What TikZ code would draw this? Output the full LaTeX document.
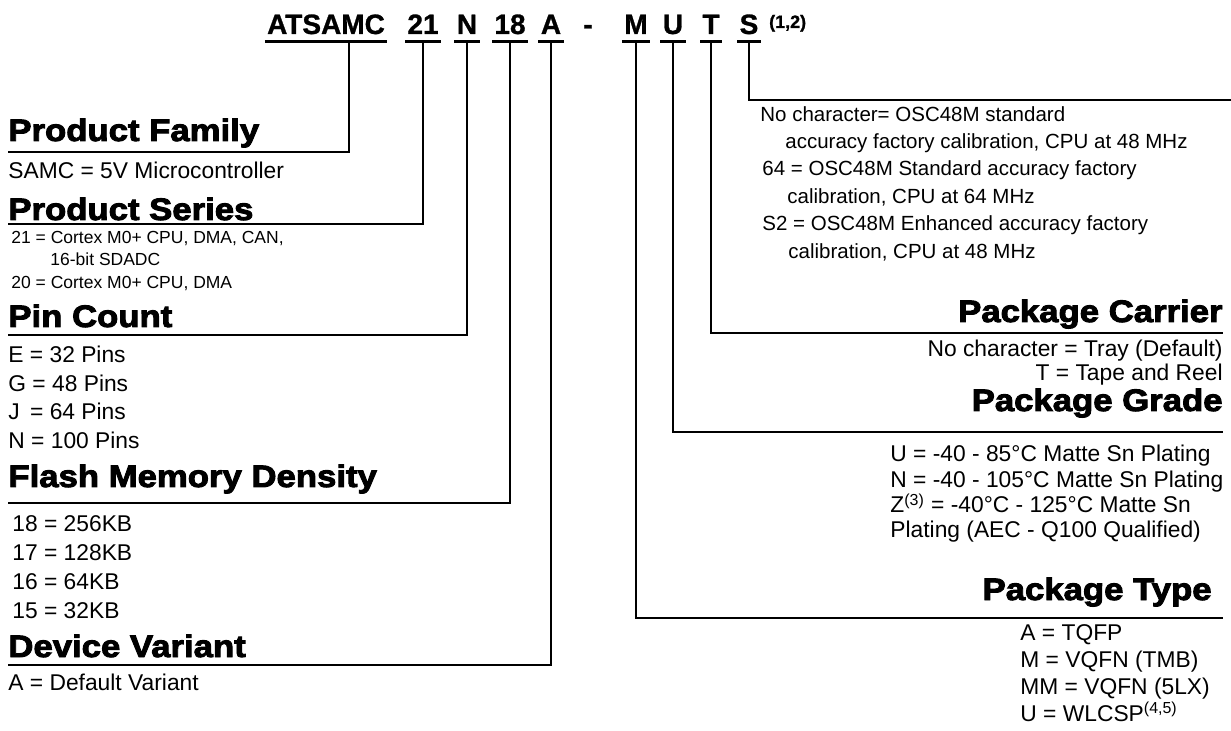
\documentclass[tikz,border=0pt]{standalone}
\usepackage{fontspec}
\setmainfont{Liberation Sans}
\newfontfamily\headfont{Liberation Sans}[FakeStretch=1.12,FakeBold=3]
\newfontfamily\codefont{Liberation Sans}[FakeBold=1]

\begin{document}
\begin{tikzpicture}[x=0.5pt,y=-0.5pt,inner sep=0pt,%
    code/.style={anchor=base,inner xsep=1pt,text depth=3.5pt,%
      font=\codefont\bfseries\fontsize{14}{16}\selectfont},%
    uline/.style={line width=1.5pt},%
    link/.style={line width=1pt},%
    head/.style={font=\headfont\bfseries\fontsize{15.5}{17}\selectfont},%
    desc/.style={anchor=base west,font=\fontsize{11.4}{13}\selectfont},%
    rdesc/.style={anchor=base east,font=\fontsize{11.4}{13}\selectfont},%
    small/.style={anchor=base west,font=\fontsize{8.75}{10}\selectfont},%
    note/.style={anchor=base west,font=\fontsize{10.25}{12}\selectfont}]

  % ここまでをバウンディングボックス内とする
  \useasboundingbox (0,0) rectangle (1231,731);

  % 型番
  \node[code] (pn-family) at (326,34) {ATSAMC};
  \node[code] (pn-series) at (423,34) {21};
  \node[code] (pn-pins) at (467,34) {N};
  \node[code] (pn-flash) at (510,34) {18};
  \node[code] (pn-variant) at (551,34) {A};
  \node[code] (pn-dash) at (588,34) {-};
  \node[code] (pn-type) at (636,34) {M};
  \node[code] (pn-grade) at (673,34) {U};
  \node[code] (pn-carrier) at (711,34) {T};
  \node[code] (pn-option) at (749,34) {S};
  \node[anchor=base west,font=\codefont\bfseries\fontsize{9}{10}\selectfont] (pn-note)%
    at ([xshift=4pt,yshift=3pt]pn-option.base east) {(1,2)};
  \foreach \n in {family,series,pins,flash,variant,type,grade,carrier,option}
    \draw[uline] (pn-\n.south west) -- (pn-\n.south east);

  % 左側の見出し
  \node[head,anchor=base west] (hd-family) at (8,141) {Product Family};
  \node[head,anchor=base west] (hd-series) at (8,220) {Product Series};
  \node[head,anchor=base west] (hd-pins) at (8,327) {Pin Count};
  \node[head,anchor=base west] (hd-flash) at (8,487) {Flash Memory Density};
  \node[head,anchor=base west] (hd-variant) at (8,657) {Device Variant};
  \coordinate (ln-family) at (8,152);
  \coordinate (ln-series) at (8,224);
  \coordinate (ln-pins) at (8,335);
  \coordinate (ln-flash) at (8,503);
  \coordinate (ln-variant) at (8,665);

  % 右側の見出し
  \node[head,anchor=base east] (hd-carrier) at (1223,322) {Package Carrier};
  \node[head,anchor=base east] (hd-grade) at (1223,411) {Package Grade};
  \node[head,anchor=base east] (hd-type) at (1212,600) {Package Type};
  \coordinate (ln-option) at (1231,100);
  \coordinate (ln-carrier) at (1223,333);
  \coordinate (ln-grade) at (1223,432);
  \coordinate (ln-type) at (1223,618);

  % 引き出し線
  \draw[link] ([xshift=11.5pt]pn-family.south) |- (ln-family);
  \foreach \n in {series,pins,flash,variant,type,grade,carrier,option}
    \draw[link] (pn-\n.south) |- (ln-\n);

  % 説明（左）
  \node[desc] (tx-family) at (8,179) {SAMC = 5V Microcontroller};
  \node[small] (tx-series1) at (11,244) {21 = Cortex M0+ CPU, DMA, CAN,};
  \node[small] (tx-series2) at (50,266) {16-bit SDADC};
  \node[small] (tx-series3) at (11,289) {20 = Cortex M0+ CPU, DMA};
  \foreach \t [count=\i] in {E = 32 Pins,G = 48 Pins,J\kern2pt\ = 64 Pins,N = 100 Pins}
    \node[desc] (tx-pins\i) at (8,{363+28.5*(\i-1)}) {\t};
  \foreach \t [count=\i] in {18 = 256KB,17 = 128KB,16 = 64KB,15 = 32KB}
    \node[desc] (tx-flash\i) at (12,{531+29*(\i-1)}) {\t};
  \node[desc] (tx-variant) at (8,690) {A = Default Variant};

  % 説明（右）
  \node[note] (tx-option1) at (760,122) {No character= OSC48M standard};
  \node[note] (tx-option2) at (785,149) {accuracy factory calibration, CPU at 48 MHz};
  \node[note] (tx-option3) at (762,176) {64 = OSC48M Standard accuracy factory};
  \node[note] (tx-option4) at (787,204) {calibration, CPU at 64 MHz};
  \node[note] (tx-option5) at (762,231) {S2 = OSC48M Enhanced accuracy factory};
  \node[note] (tx-option6) at (788,259) {calibration, CPU at 48 MHz};
  \node[rdesc] (tx-carrier1) at (1223,357) {No character = Tray (Default)};
  \node[rdesc] (tx-carrier2) at (1223,381) {T = Tape and Reel};
  \node[desc] (tx-grade1) at (890,462) {U = -40 - 85°C Matte Sn Plating};
  \node[desc] (tx-grade2) at (890,488) {N = -40 - 105°C Matte Sn Plating};
  \node[desc] (tx-grade3) at (890,513) {Z\textsuperscript{(3)} = -40°C - 125°C Matte Sn};
  \node[desc] (tx-grade4) at (890,538) {Plating (AEC - Q100 Qualified)};
  \node[desc] (tx-type1) at (1020,640) {A = TQFP};
  \node[desc] (tx-type2) at (1020,667) {M = VQFN (TMB)};
  \node[desc] (tx-type3) at (1020,694) {MM = VQFN (5LX)};
  \node[desc] (tx-type4) at (1020,721) {U = WLCSP\textsuperscript{(4,5)}};
\end{tikzpicture}
\end{document}
